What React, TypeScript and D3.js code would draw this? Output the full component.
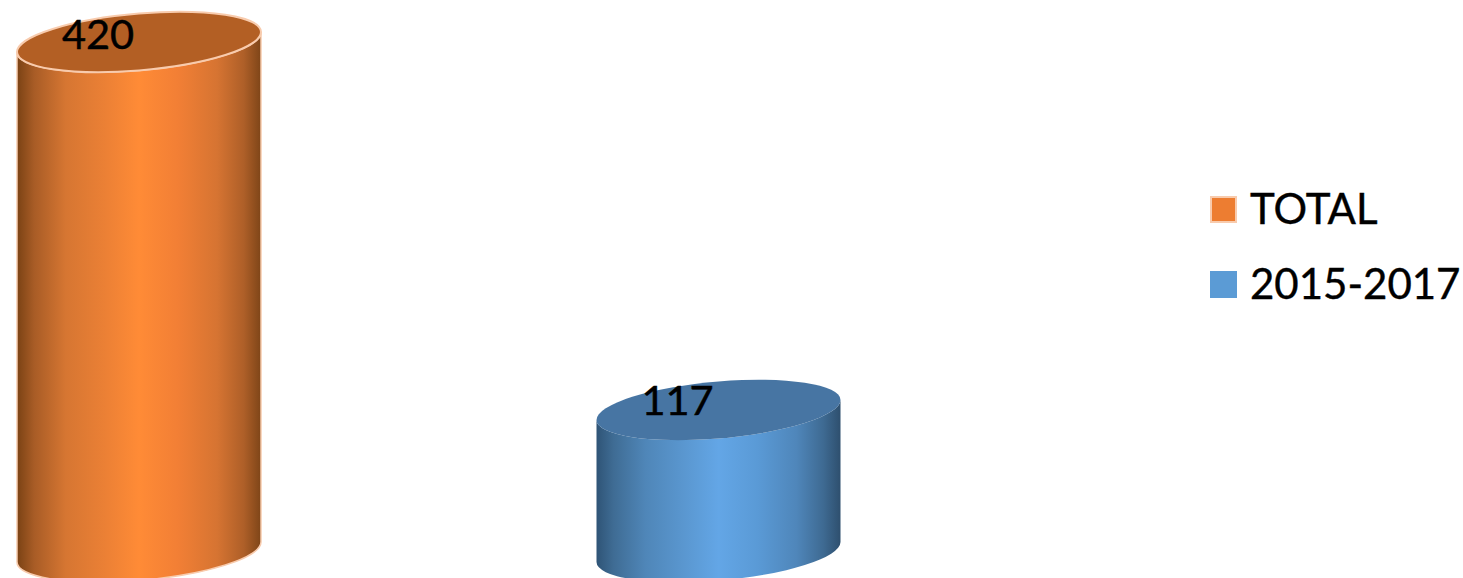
import React from "react";
import * as d3 from "d3";

const W = 1463;
const H = 578;
const categories = ["TOTAL", "2015-2017"];
const values = [420, 117];
const barCenters = [139, 718.5];
const fills = ["#ED7D31", "#5B9BD5"];
const sideStops = [
  ["#7A4214", "#A85C26", "#D67632", "#EB8035", "#FF8B36", "#F27F35", "#D67432", "#AE5F28", "#7E4518"],
  ["#2F5476", "#3F6C94", "#4F86B8", "#5A97D0", "#63A6E6", "#5A9AD6", "#4F86BA", "#3E6A92", "#2E4F6E"],
];
const stopOffsets = [0, 0.07, 0.2, 0.36, 0.5, 0.66, 0.82, 0.93, 1];
const topFills = ["#B35F24", "#4775A3"];
const strokes = ["#F8CBAD", "none"];

const RX = 122;
const RY = 28.5;
const SHEAR = -0.082;

export default function App() {
  const y = d3.scaleLinear().domain([0, 420]).range([552, 42]);
  return (
    <svg
      width={W}
      height={H}
      viewBox={`0 0 ${W} ${H}`}
      style={{ position: "absolute", left: 0, top: 0, display: "block", background: "#fff" }}
      fontFamily="Lato, 'Open Sans', sans-serif"
    >
      <defs>
        {categories.map((c, i) => (
          <linearGradient key={c} id={`side${i}`} x1="0" x2="1" y1="0" y2="0">
            {stopOffsets.map((o, j) => (
              <stop key={o} offset={o} stopColor={sideStops[i][j]} />
            ))}
          </linearGradient>
        ))}
      </defs>
      {values.map((v, i) => {
        const top = y(v);
        const base = y(0);
        const bodyPath = `M${-RX},${top}L${-RX},${base}A${RX},${RY} 0 0 0 ${RX},${base}L${RX},${top}A${RX},${RY} 0 0 1 ${-RX},${top}Z`;
        return (
          <g key={categories[i]} transform={`matrix(1,${SHEAR},0,1,${barCenters[i]},0)`}>
            <path d={bodyPath} fill={`url(#side${i})`} stroke={strokes[i]} strokeWidth={1.5} />
            <ellipse cx={0} cy={top} rx={RX} ry={RY} fill={topFills[i]} stroke={strokes[i]} strokeWidth={2} />
          </g>
        );
      })}
      {values.map((v, i) => (
        <text
          key={v}
          x={barCenters[i] - 41}
          y={y(v) + (i === 0 ? 7 : 5)}
          textAnchor="middle"
          fontSize={41.5}
          fill="#000"
          stroke="#000"
          strokeWidth={0.5}
        >
          {v}
        </text>
      ))}
      {categories.map((c, i) => (
        <g key={c} transform={`translate(1210,${197 + i * 74})`}>
          <rect
            x={i === 0 ? 1 : 0}
            y={0}
            width={i === 0 ? 25 : 27}
            height={i === 0 ? 25 : 27}
            fill={fills[i]}
            stroke={strokes[i]}
            strokeWidth={2}
          />
          <text x={40} y={i === 0 ? 27 : 28} fontSize={42} fill="#000" stroke="#000" strokeWidth={0.4}>
            {c}
          </text>
        </g>
      ))}
    </svg>
  );
}
